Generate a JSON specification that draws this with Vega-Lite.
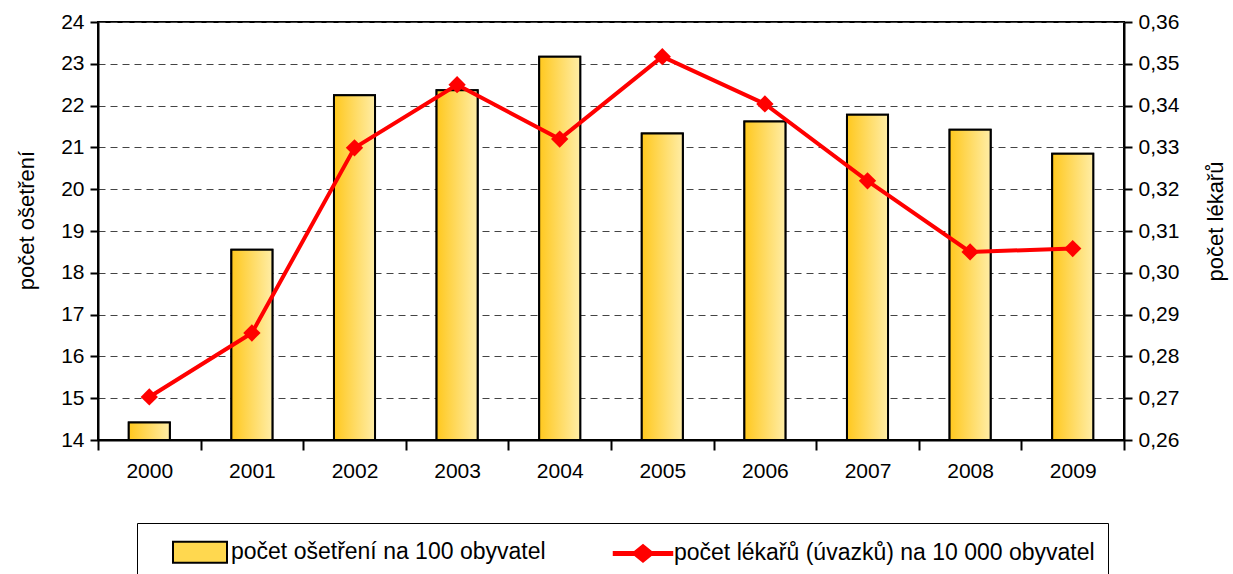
{
  "$schema": "https://vega.github.io/schema/vega-lite/v6.json",
  "width": 1026,
  "height": 418,
  "autosize": {"type": "none"},
  "padding": {"left": 98, "top": 22, "right": 109, "bottom": 134},
  "background": "white",
  "title": {
    "text": "Počet ošetření a počet lékařů v letech 2000–2009",
    "font": "Liberation Sans",
    "fontSize": 26,
    "fontWeight": "bold",
    "color": "black",
    "anchor": "middle",
    "baseline": "alphabetic",
    "offset": 18,
    "dx": 11
  },
  "config": {
    "view": {"stroke": "black", "strokeWidth": 2},
    "font": "Liberation Sans",
    "legend": {
      "orient": "none",
      "legendX": 39,
      "legendY": 501,
      "direction": "horizontal",
      "labelFont": "Liberation Sans",
      "labelFontSize": 23,
      "labelColor": "black",
      "labelLimit": 800,
      "labelOffset": 15,
      "symbolSize": 900,
      "symbolOffset": 34,
      "symbolStrokeWidth": 2,
      "symbolOpacity": 1,
      "columnPadding": 47,
      "padding": 13,
      "strokeColor": "black",
      "fillColor": "white"
    }
  },
  "data": {
    "values": [
      {"rok": "2000", "osetreni": 14.42, "lekari": 0.2703},
      {"rok": "2001", "osetreni": 18.55, "lekari": 0.2856},
      {"rok": "2002", "osetreni": 22.25, "lekari": 0.3299},
      {"rok": "2003", "osetreni": 22.37, "lekari": 0.3450},
      {"rok": "2004", "osetreni": 23.17, "lekari": 0.3320},
      {"rok": "2005", "osetreni": 21.33, "lekari": 0.3517},
      {"rok": "2006", "osetreni": 21.62, "lekari": 0.3404},
      {"rok": "2007", "osetreni": 21.78, "lekari": 0.3220},
      {"rok": "2008", "osetreni": 21.42, "lekari": 0.3050},
      {"rok": "2009", "osetreni": 20.85, "lekari": 0.3058}
    ]
  },
  "encoding": {
    "x": {
      "field": "rok",
      "type": "ordinal",
      "scale": {"paddingInner": 0, "paddingOuter": 0},
      "axis": {
        "title": null,
        "labelAngle": 0,
        "labelFont": "Liberation Sans",
        "labelFontSize": 21,
        "labelColor": "black",
        "labelPadding": 10,
        "tickBand": "extent",
        "tickSize": 10,
        "tickColor": "black",
        "tickWidth": 2,
        "domainColor": "black",
        "domainWidth": 2
      }
    }
  },
  "layer": [
    {
      "encoding": {
        "y": {
          "field": "osetreni",
          "type": "quantitative",
          "scale": {"domain": [14, 24], "zero": false, "nice": false},
          "axis": {
            "orient": "left",
            "values": [14, 15, 16, 17, 18, 19, 20, 21, 22, 23, 24],
            "title": "počet ošetření",
            "titleFont": "Liberation Sans",
            "titleFontSize": 22,
            "titleFontWeight": "normal",
            "titleColor": "black",
            "titlePadding": 22,
            "titleY": 198,
            "labelFont": "Liberation Sans",
            "labelFontSize": 21,
            "labelColor": "black",
            "labelPadding": 6,
            "tickSize": 8,
            "tickColor": "black",
            "tickWidth": 2,
            "domainColor": "black",
            "domainWidth": 2,
            "grid": true,
            "gridColor": "#444444",
            "gridDash": [7, 5],
            "gridWidth": 1
          }
        },
        "y2": {"datum": 14}
      },
      "layer": [
        {
          "mark": {"type": "bar", "width": {"band": 0.4}, "strokeWidth": 2},
          "encoding": {
            "color": {
              "datum": "počet ošetření na 100 obyvatel",
              "type": "nominal",
              "scale": {
                "domain": ["počet ošetření na 100 obyvatel", "počet lékařů (úvazků) na 10 000 obyvatel"],
                "range": ["#FFD84F", "#FF0000"]
              },
              "legend": {
                "title": null,
                "labelExpr": "datum.label == 'počet lékařů (úvazků) na 10 000 obyvatel' ? datum.label + '\u00a0\u00a0\u00a0\u00a0' : datum.label",
                "encode": {"legend": {"update": {"strokeWidth": {"value": 2}}}}
              }
            },
            "stroke": {
              "datum": "počet ošetření na 100 obyvatel",
              "type": "nominal",
              "scale": {
                "domain": ["počet ošetření na 100 obyvatel", "počet lékařů (úvazků) na 10 000 obyvatel"],
                "range": ["black", "#FF0000"]
              },
              "legend": {
                "title": null,
                "labelExpr": "datum.label == 'počet lékařů (úvazků) na 10 000 obyvatel' ? datum.label + '\u00a0\u00a0\u00a0\u00a0' : datum.label",
                "encode": {"legend": {"update": {"strokeWidth": {"value": 2}}}}
              }
            }
          }
        },
        {
          "mark": {
            "type": "bar",
            "width": {"band": 0.4},
            "stroke": "black",
            "strokeWidth": 2,
            "fill": {
              "gradient": "linear",
              "x1": 0, "y1": 0, "x2": 1, "y2": 0,
              "stops": [
                {"offset": 0, "color": "#FFC81E"},
                {"offset": 1, "color": "#FFEDA6"}
              ]
            }
          }
        }
      ]
    },
    {
      "encoding": {
        "y": {
          "field": "lekari",
          "type": "quantitative",
          "scale": {"domain": [0.26, 0.36], "zero": false, "nice": false},
          "axis": {
            "orient": "right",
            "values": [0.26, 0.27, 0.28, 0.29, 0.3, 0.31, 0.32, 0.33, 0.34, 0.35, 0.36],
            "labelExpr": "replace(format(datum.value, '.2f'), '.', ',')",
            "title": "počet lékařů",
            "titleAngle": 270,
            "titleFont": "Liberation Sans",
            "titleFontSize": 22,
            "titleFontWeight": "normal",
            "titleColor": "black",
            "titlePadding": 49,
            "titleY": 199,
            "labelFont": "Liberation Sans",
            "labelFontSize": 21,
            "labelColor": "black",
            "labelPadding": 6,
            "tickSize": 8,
            "tickColor": "black",
            "tickWidth": 2,
            "domainColor": "black",
            "domainWidth": 2,
            "grid": false
          }
        }
      },
      "layer": [
        {
          "mark": {"type": "line", "strokeWidth": 4},
          "encoding": {
            "color": {"datum": "počet lékařů (úvazků) na 10 000 obyvatel", "type": "nominal"},
            "stroke": {"datum": "počet lékařů (úvazků) na 10 000 obyvatel", "type": "nominal"}
          }
        },
        {
          "mark": {"type": "point", "shape": "diamond", "size": 300, "filled": true, "opacity": 1},
          "encoding": {
            "color": {"datum": "počet lékařů (úvazků) na 10 000 obyvatel", "type": "nominal"}
          }
        },
        {
          "mark": {"type": "point", "filled": true, "opacity": 0},
          "encoding": {
            "shape": {
              "datum": "počet lékařů (úvazků) na 10 000 obyvatel",
              "type": "nominal",
              "scale": {
                "domain": ["počet ošetření na 100 obyvatel", "počet lékařů (úvazků) na 10 000 obyvatel"],
                "range": ["M-1.8,-0.7H1.8V0.7H-1.8Z", "M-1.95,-0.1H-0.55L0,-0.55L0.55,-0.1H1.95V0.1H0.55L0,0.55L-0.55,0.1H-1.95Z"]
              },
              "legend": {
                "title": null,
                "labelExpr": "datum.label == 'počet lékařů (úvazků) na 10 000 obyvatel' ? datum.label + '\u00a0\u00a0\u00a0\u00a0' : datum.label",
                "encode": {"legend": {"update": {"strokeWidth": {"value": 2}}}}
              }
            }
          }
        }
      ]
    }
  ],
  "resolve": {"scale": {"y": "independent"}}
}
